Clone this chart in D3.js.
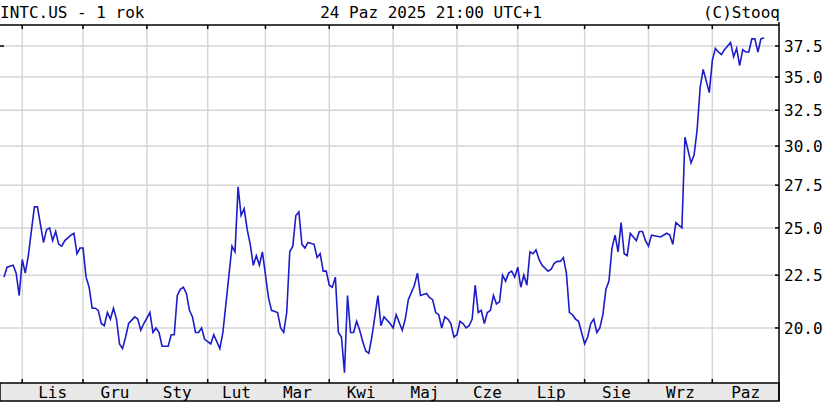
<!DOCTYPE html>
<html>
<head>
<meta charset="utf-8">
<script src="https://cdn.jsdelivr.net/npm/d3@7"></script>
<style>
  body { margin: 0; background: #fff; }
  text { font-family: "DejaVu Sans Mono", monospace; font-size: 16px; fill: #000; }
</style>
</head>
<body>
<svg id="chart" width="832" height="403"></svg>
<script>
// trading day index (0 = 24 Oct 2024) and close prices
var days = [0,1,3,4,5,6,7,8,10,11,13,14,15,16,17,18,19,20,22,23,24,25,26,27,28,29,30,31,32,33,34,35,36,37,38,39,40,41,
  43,44,45,46,48,49,50,51,52,54,55,56,57,58,59,60,61,62,63,64,65,66,68,69,71,72,73,75,76,77,78,79,80,81,82,83,84,85,87,88,90,91,
  92,93,94,95,96,97,98,99,100,102,103,104,105,106,107,108,109,110,111,112,113,114,115,116,117,118,119,120,121,123,124,125,127,128,129,131,132,133,135,136,137,139,140,
  141,142,143,144,145,146,147,148,149,150,151,152,153,154,155,156,157,158,159,160,161,162,163,164,165,166,167,168,169,170,171,172,173,174,175,176,177,179,180,181,182,183,184,185,186,187,188,189,190,191,192,193,194,195,196,197,198,199,200,
  201,202,203,204,205,206,208,209,210,211,212,213,216,218,219,220,221,223,224,226,227,228,229,230,232,233,234,235,236,237,239,240,241,242,243,244,245,246,247,248,249,250];
var closes = [22.4,22.9,23.0,22.6,21.5,23.3,22.6,23.5,26.2,26.2,24.2,24.9,25.0,24.3,24.8,24.1,24.0,24.3,24.6,24.7,23.6,23.9,23.9,22.4,21.9,20.9,20.9,20.8,20.2,20.1,20.7,20.4,20.9,20.4,19.3,19.1,19.6,20.2,
  20.5,20.4,19.9,20.2,20.7,19.8,20.0,19.8,19.2,19.2,19.7,19.7,21.5,21.8,21.9,21.6,20.8,20.5,19.8,19.8,20.0,19.5,19.3,19.7,19.1,19.8,21.1,24.0,23.7,27.4,25.7,26.1,24.9,24.1,23.0,23.5,23.0,23.7,21.4,20.8,20.7,20.0,
  19.8,20.7,23.7,24.0,25.7,25.9,24.1,23.9,24.2,24.1,23.4,23.6,22.7,22.7,22.0,21.9,22.4,19.8,19.6,18.1,21.5,19.8,19.8,20.3,19.9,19.4,19.0,18.9,19.6,21.5,20.1,20.5,20.2,20.0,20.6,19.9,20.4,21.3,22.0,22.6,21.5,21.6,21.4,
  21.3,20.7,20.6,20.0,20.5,20.4,20.2,19.6,19.7,20.3,20.2,20.0,20.1,20.4,22.0,20.7,20.8,20.2,20.7,20.8,21.5,21.1,21.2,22.5,22.2,22.6,22.7,22.4,22.9,21.9,22.5,22.0,23.7,23.6,23.8,23.3,23.0,22.7,22.8,23.1,23.2,23.2,23.4,22.6,20.7,20.6,20.4,20.3,19.8,19.3,19.6,20.2,20.4,19.8,20.0,20.6,21.8,22.2,23.9,
  24.6,23.7,25.3,23.6,23.5,24.7,24.3,24.8,24.8,24.3,24.0,24.6,24.5,24.7,24.6,24.1,25.3,25.0,30.6,28.9,29.4,31.1,34.2,35.6,33.8,36.3,37.3,37.0,36.8,37.2,37.8,36.6,37.3,35.9,37.2,37.0,37.0,38.1,38.1,37.0,38.1,38.2];
var monthStarts = [6,26,47,67,86,107,128,149,169,191,212,233];
var monthLabels = ["Lis","Gru","Sty","Lut","Mar","Kwi","Maj","Cze","Lip","Sie","Wrz","Paz"];
var yTicks = [20.0,22.5,25.0,27.5,30.0,32.5,35.0,37.5];
var lastDay = 255;

var plot = {left: 0, right: 779, top: 25, bottom: 383, band: 401};
var svg = d3.select("#chart");

var x = d3.scaleLinear().domain([0, 250]).range([4, 764]);
var y = d3.scaleLog().domain([17.69, 39.3]).range([plot.bottom, plot.top]);

// gridlines
svg.append("g").selectAll("line").data(monthStarts).enter().append("line")
  .attr("x1", function(d) { return x(d); }).attr("x2", function(d) { return x(d); })
  .attr("y1", plot.top).attr("y2", plot.bottom)
  .style("stroke", "#d6d6d6").style("stroke-width", 1.5);
svg.append("g").selectAll("line").data(yTicks).enter().append("line")
  .attr("x1", plot.left).attr("x2", plot.right)
  .attr("y1", function(d) { return y(d); }).attr("y2", function(d) { return y(d); })
  .style("stroke", "#d6d6d6").style("stroke-width", 1.5);

// bottom band with month names
svg.append("rect").attr("x", plot.left).attr("y", plot.bottom)
  .attr("width", plot.right - plot.left).attr("height", plot.band - plot.bottom)
  .style("fill", "#e8e8e8").style("stroke", "#000").style("stroke-width", 1.5);
var bounds = [0].concat(monthStarts).concat([lastDay]);
svg.append("g").selectAll("text").data(monthLabels).enter().append("text")
  .attr("x", function(d, i) { return (x(bounds[i + 1]) + Math.min(x(bounds[i + 2]), plot.right)) / 2; })
  .attr("y", 398).attr("text-anchor", "middle").text(function(d) { return d; });
svg.append("g").selectAll("line").data(monthStarts).enter().append("line")
  .attr("x1", function(d) { return x(d); }).attr("x2", function(d) { return x(d); })
  .attr("y1", plot.bottom - 4).attr("y2", plot.bottom)
  .style("stroke", "#000").style("stroke-width", 1.5);
svg.append("g").selectAll("line").data(monthStarts).enter().append("line")
  .attr("x1", function(d) { return x(d); }).attr("x2", function(d) { return x(d); })
  .attr("y1", plot.top).attr("y2", plot.top + 4)
  .style("stroke", "#000").style("stroke-width", 1.5);

// top border and right axis
svg.append("line").attr("x1", plot.left).attr("x2", plot.right)
  .attr("y1", plot.top).attr("y2", plot.top).style("stroke", "#000").style("stroke-width", 1.5);
svg.append("line").attr("x1", plot.right).attr("x2", plot.right)
  .attr("y1", plot.top - 3).attr("y2", plot.band).style("stroke", "#000").style("stroke-width", 1.5);
svg.append("g").selectAll("line").data(yTicks).enter().append("line")
  .attr("x1", plot.right - 4).attr("x2", plot.right)
  .attr("y1", function(d) { return y(d); }).attr("y2", function(d) { return y(d); })
  .style("stroke", "#000").style("stroke-width", 1.5);
svg.append("line").attr("x1", 0).attr("x2", 4)
  .attr("y1", y(37.5)).attr("y2", y(37.5)).style("stroke", "#000").style("stroke-width", 1.5);
svg.append("g").selectAll("text").data(yTicks).enter().append("text")
  .attr("x", 784).attr("y", function(d) { return y(d) + 6; })
  .text(function(d) { return d.toFixed(1); });

// price line
var line = d3.line()
  .x(function(d, i) { return x(days[i]); })
  .y(function(d) { return y(d); });
svg.append("path").datum(closes)
  .attr("d", line)
  .style("fill", "none").style("stroke", "#1c1cc8").style("stroke-width", 1.6);

// header
svg.append("text").attr("x", 0).attr("y", 18).text("INTC.US - 1 rok");
svg.append("text").attr("x", 431).attr("y", 18).attr("text-anchor", "middle").text("24 Paz 2025 21:00 UTC+1");
svg.append("text").attr("x", 780).attr("y", 18).attr("text-anchor", "end").text("(C)Stooq");
</script>
</body>
</html>
